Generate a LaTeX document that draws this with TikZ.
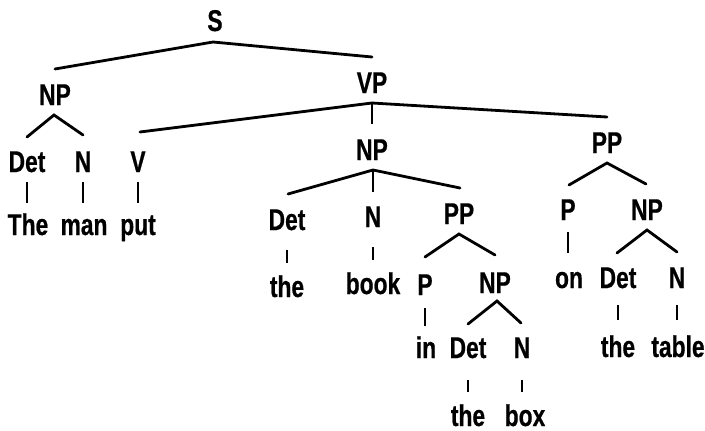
\documentclass[tikz,border=0pt]{standalone}
\usepackage{fontspec}
\setmainfont{Liberation Sans}[FakeStretch=0.76,FakeBold=0.6]
\begin{document}
\begin{tikzpicture}[x=1pt,y=-1pt,
  lab/.style={anchor=base,inner sep=0pt,font=\fontsize{30}{30}\selectfont\bfseries},
  branch/.style={line width=2.8pt,line cap=round},
  stem/.style={line width=2pt}]
\useasboundingbox (0,0) rectangle (705,431);
% labels
\node[lab] (S) at (215,31) {S};
\node[lab] (np1) at (55,105) {NP};
\node[lab] (det1) at (27,172) {Det};
\node[lab] (n1) at (83,172) {N};
\node[lab] (v1) at (138,172) {V};
\node[lab] (w1) at (28,235) {The};
\node[lab] (w2) at (84,235) {man};
\node[lab] (w3) at (138,235) {put};
\node[lab] (vp) at (372,93) {VP};
\node[lab] (np2) at (372,160) {NP};
\node[lab] (pp1) at (607,153) {PP};
\node[lab] (det2) at (287,230) {Det};
\node[lab] (n2) at (373,227) {N};
\node[lab] (pp2) at (459,224) {PP};
\node[lab] (w4) at (287,297) {the};
\node[lab] (w5) at (373,294) {book};
\node[lab] (p2) at (425,295) {P};
\node[lab] (np3) at (495,293) {NP};
\node[lab] (w6) at (426,358) {in};
\node[lab] (det3) at (468,358) {Det};
\node[lab] (n3) at (522,358) {N};
\node[lab] (w7) at (468,426) {the};
\node[lab] (w8) at (525,426) {box};
\node[lab] (p1) at (568,220) {P};
\node[lab] (np4) at (647,220) {NP};
\node[lab] (w9) at (569,288) {on};
\node[lab] (det4) at (618,288) {Det};
\node[lab] (n4) at (677,288) {N};
\node[lab] (w10) at (618,357) {the};
\node[lab] (w11) at (678,357) {table};
% branch points
\coordinate (S-a) at (213,42);
\coordinate (S-l) at (55,69);
\coordinate (S-r) at (372,57);
\coordinate (np1-a) at (54,115);
\coordinate (np1-l) at (27,137);
\coordinate (np1-r) at (83,135);
\coordinate (vp-a) at (372,103);
\coordinate (vp-l) at (140,132);
\coordinate (vp-r) at (607,117);
\coordinate (vp-m) at (372,124);
\coordinate (np2-a) at (373,170);
\coordinate (np2-l) at (288,194);
\coordinate (np2-r) at (460,188);
\coordinate (np2-m) at (373,192);
\coordinate (pp1-a) at (607,163);
\coordinate (pp1-l) at (569,185);
\coordinate (pp1-r) at (646,184);
\coordinate (pp2-a) at (459,234);
\coordinate (pp2-l) at (425,257);
\coordinate (pp2-r) at (495,255);
\coordinate (np3-a) at (497,301);
\coordinate (np3-l) at (468,324);
\coordinate (np3-r) at (521,323);
\coordinate (np4-a) at (647,230);
\coordinate (np4-l) at (617,253);
\coordinate (np4-r) at (677,252);
% branches
\draw[branch] (S-l) -- (S-a) -- (S-r);
\draw[branch] (np1-l) -- (np1-a) -- (np1-r);
\draw[branch] (vp-l) -- (vp-a) -- (vp-r);
\draw[stem] (vp-a) -- (vp-m);
\draw[branch] (np2-l) -- (np2-a) -- (np2-r);
\draw[stem] (np2-a) -- (np2-m);
\draw[branch] (pp1-l) -- (pp1-a) -- (pp1-r);
\draw[branch] (pp2-l) -- (pp2-a) -- (pp2-r);
\draw[branch] (np3-l) -- (np3-a) -- (np3-r);
\draw[branch] (np4-l) -- (np4-a) -- (np4-r);
% stems to words
\draw[stem] ([yshift=-10pt]det1.base) -- ([yshift=-31pt]det1.base);
\draw[stem] ([yshift=-10pt]n1.base) -- ([yshift=-31pt]n1.base);
\draw[stem] ([yshift=-10pt]v1.base) -- ([yshift=-31pt]v1.base);
\draw[stem] ([yshift=-20pt]det2.base) -- ([yshift=-33pt]det2.base);
\draw[stem] ([yshift=-20pt]n2.base) -- ([yshift=-33pt]n2.base);
\draw[stem] ([yshift=-13pt]p2.base) -- ([yshift=-31pt]p2.base);
\draw[stem] ([yshift=-22pt]det3.base) -- ([yshift=-34pt]det3.base);
\draw[stem] ([yshift=-22pt]n3.base) -- ([yshift=-34pt]n3.base);
\draw[stem] ([yshift=-12pt]p1.base) -- ([yshift=-33pt]p1.base);
\draw[stem] ([yshift=-17pt]det4.base) -- ([yshift=-32pt]det4.base);
\draw[stem] ([yshift=-17pt]n4.base) -- ([yshift=-32pt]n4.base);
\end{tikzpicture}
\end{document}
